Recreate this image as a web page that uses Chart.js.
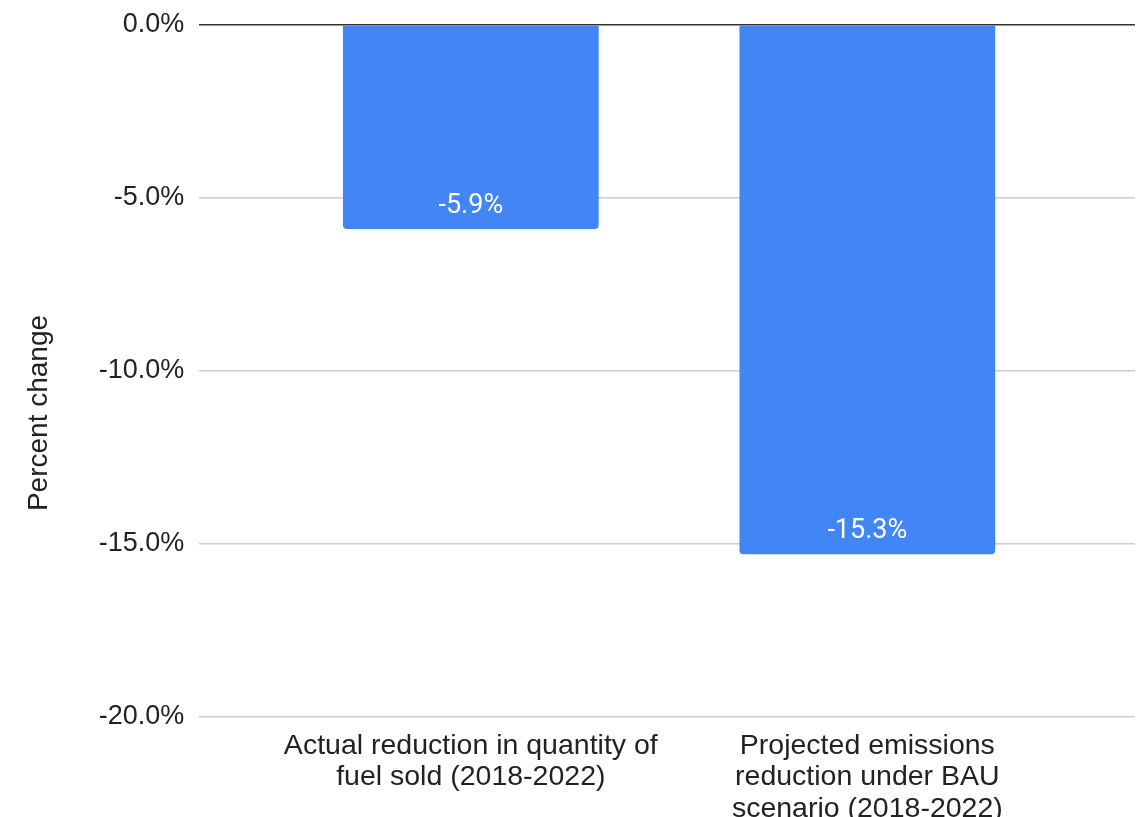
<!DOCTYPE html>
<html>
<head>
<meta charset="utf-8">
<script src="https://cdn.jsdelivr.net/npm/chart.js@4"></script>
<style>
  html, body { margin: 0; padding: 0; background: #fff; }
  #wrap { width: 1145px; height: 817px; }
</style>
</head>
<body>
<div id="wrap"><canvas id="fuelChart" width="1145" height="817"></canvas></div>
<script>
// ----- data -----
const categories = [
    ['Actual reduction in quantity of', 'fuel sold (2018-2022)'],
    ['Projected emissions', 'reduction under BAU', 'scenario (2018-2022)']
];
const percentChange = [-5.9, -15.3];
const yTicks = [0, -5, -10, -15, -20];

const xPositions = categories.map((c, i) => i);
const barColor = '#4285F4';

// bar value labels drawn inside the end of each bar
const barLabels = {
    id: 'barLabels',
    afterDatasetsDraw(chart) {
        const ctx = chart.ctx;
        const meta = chart.getDatasetMeta(0);
        ctx.save();
        ctx.fillStyle = '#ffffff';
        ctx.font = '27px Roboto, "Liberation Sans", Arial, sans-serif';
        ctx.textAlign = 'center';
        ctx.textBaseline = 'middle';
        meta.data.forEach((bar, i) => {
            ctx.fillText(percentChange[i].toFixed(1) + '%', bar.x, bar.y - 23);
        });
        ctx.restore();
    }
};

const ctx = document.getElementById('fuelChart').getContext('2d');
new Chart(ctx, {
    type: 'bar',
    data: {
        datasets: [{
            data: xPositions.map(i => ({ x: i, y: percentChange[i] })),
            backgroundColor: barColor,
            borderRadius: 4,
            borderSkipped: 'start',
            categoryPercentage: 1,
            barPercentage: 0.645
        }]
    },
    options: {
        responsive: false,
        animation: false,
        layout: { padding: { top: 9, right: 10, bottom: 0, left: 0 } },
        plugins: {
            legend: { display: false },
            tooltip: { enabled: false },
            title: {
                display: true,
                position: 'left',
                text: 'Percent change',
                color: '#222',
                font: { family: '"Liberation Sans", Arial, sans-serif', size: 28, weight: 'normal' },
                padding: { top: 22, bottom: 0 }
            }
        },
        scales: {
            x: {
                type: 'linear',
                offset: false,
                min: -0.685,
                max: 1.675,
                grid: { display: false, drawTicks: false },
                border: { display: false },
                afterBuildTicks: (scale) => { scale.ticks = xPositions.map(v => ({ value: v })); },
                afterFit: (scale) => { scale.height = 100; },
                ticks: {
                    autoSkip: false,
                    maxRotation: 0,
                    padding: 14,
                    color: '#222',
                    font: { family: '"Liberation Sans", Arial, sans-serif', size: 28.5, lineHeight: 1.09 },
                    callback: (v) => categories[v]
                }
            },
            y: {
                min: -20,
                max: 0,
                afterBuildTicks: (scale) => { scale.ticks = yTicks.map(v => ({ value: v })); },
                afterFit: (scale) => { scale.width = 143.6; },
                border: { display: false },
                grid: {
                    color: (c) => (c.tick && c.tick.value === 0) ? '#333333' : '#cccccc',
                    lineWidth: 1.5,
                    drawTicks: true,
                    tickLength: 15,
                    tickColor: 'rgba(0,0,0,0)'
                },
                ticks: {
                    padding: 0,
                    color: '#222',
                    font: { family: '"Liberation Sans", Arial, sans-serif', size: 27, lineHeight: 1.85 },
                    callback: (v) => v.toFixed(1) + '%'
                }
            }
        }
    },
    plugins: [barLabels]
});
</script>
</body>
</html>
